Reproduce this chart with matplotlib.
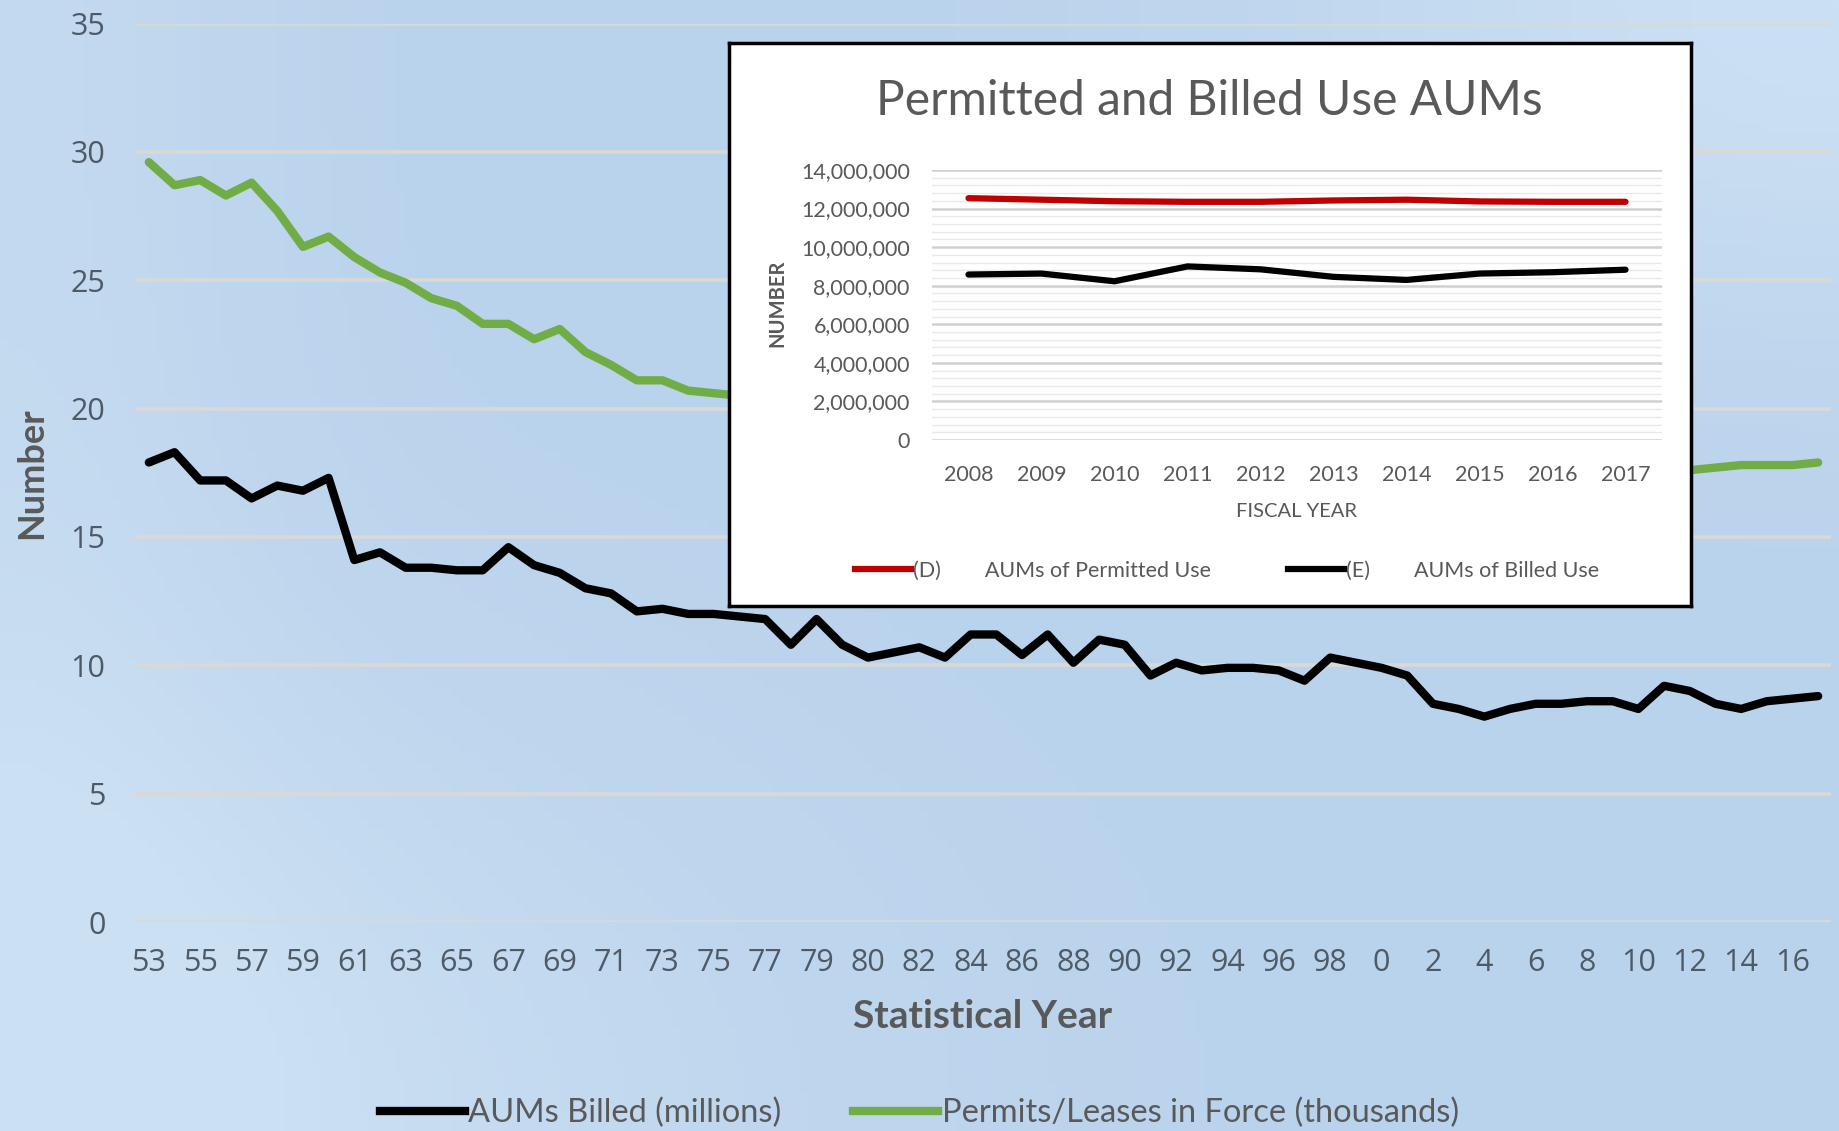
import numpy as np
import matplotlib.pyplot as plt
from matplotlib.lines import Line2D
from matplotlib.ticker import MultipleLocator, FuncFormatter

plt.rcParams['font.family'] = ['Lato', 'DejaVu Sans']

# main chart: statistical years (two-digit labels as printed on the axis)
years = ['53', '54', '55', '56', '57', '58', '59', '60', '61', '62',
         '63', '64', '65', '66', '67', '68', '69', '70', '71', '72',
         '73', '74', '75', '76', '77', '78', '79', '79', '80', '81',
         '82', '83', '84', '85', '86', '87', '88', '89', '90', '91',
         '92', '93', '94', '95', '96', '97', '98', '99', '0', '1',
         '2', '3', '4', '5', '6', '7', '8', '9', '10', '11',
         '12', '13', '14', '15', '16', '17']

aums_billed = [17.9, 18.3, 17.2, 17.2, 16.5, 17.0, 16.8, 17.3, 14.1, 14.4,
               13.8, 13.8, 13.7, 13.7, 14.6, 13.9, 13.6, 13.0, 12.8, 12.1,
               12.2, 12.0, 12.0, 11.9, 11.8, 10.8, 11.8, 10.8, 10.3, 10.5,
               10.7, 10.3, 11.2, 11.2, 10.4, 11.2, 10.1, 11.0, 10.8, 9.6,
               10.1, 9.8, 9.9, 9.9, 9.8, 9.4, 10.3, 10.1, 9.9, 9.6,
               8.5, 8.3, 8.0, 8.3, 8.5, 8.5, 8.6, 8.6, 8.3, 9.2,
               9.0, 8.5, 8.3, 8.6, 8.7, 8.8]

# values for 1976-2012 sit behind the inset and are rough estimates
permits = [29.6, 28.7, 28.9, 28.3, 28.8, 27.7, 26.3, 26.7, 25.9, 25.3,
           24.9, 24.3, 24.0, 23.3, 23.3, 22.7, 23.1, 22.2, 21.7, 21.1,
           21.1, 20.7, 20.6, 20.5, 20.4, 20.3, 20.3, 20.1, 20.0, 19.9,
           19.8, 19.7, 19.6, 19.6, 19.4, 19.3, 19.2, 19.1, 19.1, 18.9,
           18.8, 18.7, 18.6, 18.5, 18.4, 18.3, 18.2, 18.1, 18.1, 18.0,
           17.9, 17.9, 17.8, 17.8, 17.7, 17.7, 17.6, 17.6, 17.5, 17.5,
           17.6, 17.7, 17.8, 17.8, 17.8, 17.9]

# inset chart
fiscal_years = ['2008', '2009', '2010', '2011', '2012',
                '2013', '2014', '2015', '2016', '2017']
permitted_use = [12540000, 12460000, 12380000, 12350000, 12350000,
                 12420000, 12460000, 12370000, 12350000, 12350000]
billed_use = [8580000, 8630000, 8230000, 9000000, 8850000,
              8460000, 8300000, 8630000, 8700000, 8830000]

GRAY = '#595959'
SLATE = '#4e5a66'
W, H = 1839, 1131

fig = plt.figure(figsize=(W / 100, H / 100), dpi=100)

# light blue background, a little lighter toward top-right and bottom-left
bg = fig.add_axes([0, 0, 1, 1], zorder=-10)
X, Y = np.meshgrid(np.linspace(0, 1, 200), np.linspace(0, 1, 120))
base = np.array([186, 211, 236]) / 255
light = np.array([204, 224, 243]) / 255
w_tr = np.exp(-((X - 1) ** 2 + (Y - 1) ** 2) / 0.08)
w_bl = np.exp(-((X) ** 2 + (Y) ** 2) / 0.15)
w_l = 0.5 * np.exp(-(X ** 2) / 0.02)
wgt = np.clip(w_tr + w_bl + w_l, 0, 1)[..., None]
img = base * (1 - wgt) + light * wgt
bg.imshow(img, aspect='auto', extent=[0, 1, 0, 1], origin='lower')
bg.axis('off')

# main axes
ax = fig.add_axes([136 / W, 1 - 922 / H, (1831 - 136) / W, (922 - 23.5) / H])
ax.set_facecolor('none')
x = np.arange(len(years))
ax.plot(x, aums_billed, color='black', lw=6, solid_capstyle='round', zorder=3)
ax.plot(x, permits, color='#70ad47', lw=6, solid_capstyle='round', zorder=3)
ax.set_xlim(-0.5, len(years) - 0.5)
ax.set_ylim(0, 35)
ax.set_yticks(range(0, 36, 5))
ax.set_xticks(x[::2])
ax.set_xticklabels(years[::2])
ax.grid(axis='y', color='#d9d9d6', lw=2.6)
ax.set_axisbelow(True)
for s in ax.spines.values():
    s.set_visible(False)
ax.tick_params(axis='both', length=0, labelsize=22, labelcolor=SLATE)
ax.tick_params(axis='y', pad=22)
ax.tick_params(axis='x', pad=19)
for lab in ax.get_xticklabels() + ax.get_yticklabels():
    lab.set_family(['Open Sans', 'DejaVu Sans'])

fig.text(983 / W, 1 - 1017 / H, 'Statistical Year', ha='center', va='center',
         fontsize=28, fontweight='bold', color=GRAY)
fig.text(32 / W, 1 - 473 / H, 'Number', ha='center', va='center', rotation=90,
         fontsize=26, fontweight='bold', color=GRAY)

main_handles = [Line2D([], [], color='black', lw=6),
                Line2D([], [], color='#70ad47', lw=6)]
fig.legend(main_handles, ['AUMs Billed (millions)', 'Permits/Leases in Force (thousands)'],
           loc='center', bbox_to_anchor=(0.5, 1 - 1113 / H), ncol=2, frameon=False,
           fontsize=23.5, handlelength=2.6, handletextpad=0.1, columnspacing=2.2,
           labelcolor=GRAY)

# inset frame
frame = fig.add_axes([729 / W, 1 - 606 / H, 962 / W, 563 / H], zorder=5)
frame.set_facecolor('white')
frame.set_xticks([])
frame.set_yticks([])
for s in frame.spines.values():
    s.set_linewidth(2.5)
    s.set_color('black')

iax = fig.add_axes([932 / W, 1 - 440 / H, 730 / W, 270 / H], zorder=6)
iax.set_facecolor('none')
fx = np.arange(len(fiscal_years))
iax.plot(fx, permitted_use, color='#c00000', lw=4.5, solid_capstyle='round', zorder=3)
iax.plot(fx, billed_use, color='black', lw=4.5, solid_capstyle='round', zorder=3)
iax.set_xlim(-0.5, len(fiscal_years) - 0.5)
iax.set_ylim(0, 14000000)
iax.yaxis.set_major_locator(MultipleLocator(2000000))
iax.yaxis.set_minor_locator(MultipleLocator(400000))
iax.yaxis.set_major_formatter(FuncFormatter(lambda v, p: f'{v:,.0f}'))
iax.set_xticks(fx)
iax.set_xticklabels(fiscal_years)
iax.grid(axis='y', which='major', color='#d0d0d0', lw=1.8)
iax.grid(axis='y', which='minor', color='#e9e9e9', lw=1.0)
iax.set_axisbelow(True)
for s in iax.spines.values():
    s.set_visible(False)
iax.tick_params(axis='both', which='both', length=0, labelsize=15.5, labelcolor=GRAY)
iax.tick_params(axis='y', pad=16)
iax.tick_params(axis='x', pad=18)

fig.text(1209 / W, 1 - 101 / H, 'Permitted and Billed Use AUMs', ha='center', va='center',
         fontsize=34.5, color=GRAY, zorder=7)
fig.text(1296 / W, 1 - 511 / H, 'FISCAL YEAR', ha='center', va='center',
         fontsize=14.5, color=GRAY, zorder=7)
fig.text(777 / W, 1 - 303 / H, 'NUMBER', ha='center', va='center', rotation=90,
         fontsize=14.5, fontweight='bold', color=GRAY, zorder=7)

inset_handles = [Line2D([], [], color='#c00000', lw=4.5),
                 Line2D([], [], color='black', lw=4.5)]
gap = ' ' * 8
iax.legend(inset_handles, ['(D)' + gap + 'AUMs of Permitted Use',
                           '(E)' + gap + 'AUMs of Billed Use'],
           loc='center', bbox_to_anchor=(1227 / W, 1 - 571 / H),
           bbox_transform=fig.transFigure, ncol=2, frameon=False,
           fontsize=15.5, handlelength=2.6, handletextpad=0.1, columnspacing=3.6,
           labelcolor=GRAY)

fig.savefig('out.png', dpi=100)
